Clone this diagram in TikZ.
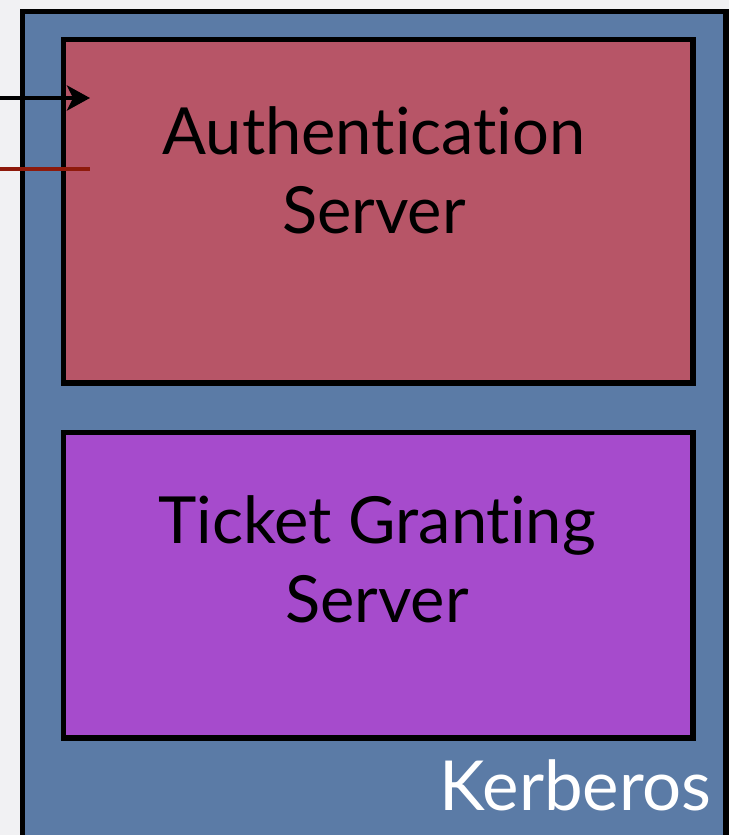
\documentclass[tikz,border=0pt]{standalone}
\usepackage{fontspec}
\setmainfont{Lato}[Ligatures={NoCommon,NoRequired,NoContextual}]
\usetikzlibrary{arrows.meta}
\definecolor{bgc}{HTML}{F1F1F3}
\definecolor{kblue}{HTML}{5B7BA6}
\definecolor{asred}{HTML}{B75567}
\definecolor{tgpurple}{HTML}{A64BCC}
\definecolor{linered}{HTML}{8E1A0B}
\tikzset{
  serverbox/.style={rectangle, draw=black, line width=5.5pt, inner sep=0pt, anchor=north west},
  boxtext/.style={align=center, inner sep=0pt, anchor=base, font=\fontsize{65}{79}\selectfont, text=black},
}
\begin{document}
\begin{tikzpicture}[x=1pt,y=-1pt]
\useasboundingbox (0,0) rectangle (729,835);
\clip (0,0) rectangle (729,835);
\fill[bgc] (0,0) rectangle (729,835);
\node (kerb) [serverbox, fill=kblue, minimum width=703.5pt, minimum height=860pt] at (19.5,8.5) {};
\node (as) [serverbox, fill=asred, minimum width=629.5pt, minimum height=343.5pt] at (60.5,36.5) {};
\node (tgs) [serverbox, fill=tgpurple, minimum width=629.5pt, minimum height=305.5pt] at (60.5,429.5) {};
\node (astext) [boxtext] at (374,233) {Authentication\\Server};
\node (tgstext) [boxtext] at (377,622) {Ticket Granting\\Server};
\node (kerbtext) [inner sep=0pt, anchor=base east, font=\fontsize{69}{80}\selectfont, text=white] at (712,810) {Kerberos};
\coordinate (inA) at (0,98);
\coordinate (inB) at (90,98);
\coordinate (outA) at (0,169);
\coordinate (outB) at (90,169);
\draw[line width=4pt, -{Stealth[length=23pt, width=25pt, inset=6pt]}] (inA) -- (inB);
\draw[line width=4pt, linered] (outA) -- (outB);
\end{tikzpicture}
\end{document}
